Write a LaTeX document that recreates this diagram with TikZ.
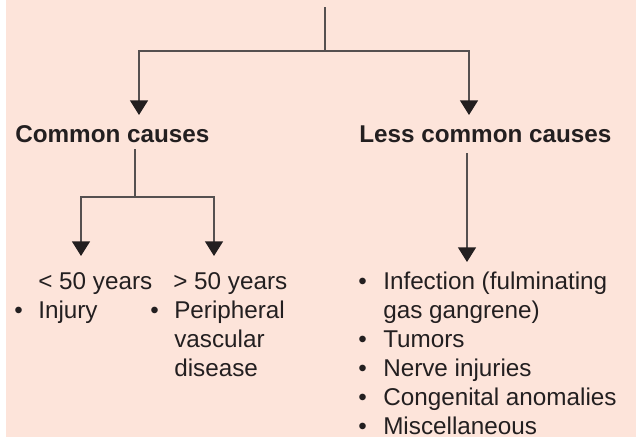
\documentclass[tikz,border=0pt]{standalone}
\usepackage{fontspec}
\setmainfont{Liberation Sans}
\usetikzlibrary{arrows.meta}
\definecolor{peach}{RGB}{253,228,218}
\definecolor{ink}{RGB}{35,31,32}
\definecolor{linegray}{RGB}{85,80,80}
\begin{document}
\begin{tikzpicture}[x=0.75pt,y=-0.75pt,
  txt/.style={anchor=base west,inner sep=0pt,font=\fontsize{18.2}{21}\selectfont,text=ink},
  head/.style={anchor=base west,inner sep=0pt,font=\fontsize{18.2}{21}\selectfont\bfseries,text=ink},
  conn/.style={draw=linegray,line width=1pt},
  arr/.style={conn,-{Triangle[length=11pt,width=13.5pt,color=ink]}}]
\useasboundingbox (0,0) rectangle (636,437);
\fill[peach] (6,0) rectangle (636,437);

% headings
\node[head] (cc) at (15,142) {Common causes};
\node[head] (lc) at (359,142) {Less common causes};

% left sub-branches
\node[txt] (lt) at (38,289) {< 50 years};
\node[txt] (gt) at (173,289) {> 50 years};
\node[txt] (b1) at (14,318) {•};
\node[txt] (inj) at (38,318) {Injury};
\node[txt] (b2) at (150,318) {•};
\node[txt] (per) at (174,318) {Peripheral};
\node[txt] (vas) at (174,347) {vascular};
\node[txt] (dis) at (174,376) {disease};

% right list
\node[txt] (rb1) at (358,289) {•};
\node[txt] (inf) at (383,289) {Infection (fulminating};
\node[txt] (gas) at (383,318) {gas gangrene)};
\node[txt] (rb2) at (358,347) {•};
\node[txt] (tum) at (383,347) {Tumors};
\node[txt] (rb3) at (358,376) {•};
\node[txt] (ner) at (383,376) {Nerve injuries};
\node[txt] (rb4) at (358,405) {•};
\node[txt] (con) at (383,405) {Congenital anomalies};
\node[txt] (rb5) at (358,434) {•};
\node[txt] (mis) at (383,434) {Miscellaneous};

% connectors
\coordinate (top) at (325,7);
\coordinate (j1) at (325,51);
\coordinate (tl) at (139,115);
\coordinate (tr) at (469,115);
\draw[conn] (top) -- (j1);
\draw[arr] (j1) -| (tl);
\draw[arr] (j1) -| (tr);

\coordinate (s1) at (135,149);
\coordinate (j2) at (135,197);
\coordinate (tl2) at (81,256);
\coordinate (tr2) at (214,256);
\draw[conn] (s1) -- (j2);
\draw[arr] (j2) -| (tl2);
\draw[arr] (j2) -| (tr2);

\coordinate (s2) at (467,153);
\coordinate (tr3) at (467,262);
\draw[arr] (s2) -- (tr3);
\end{tikzpicture}
\end{document}
